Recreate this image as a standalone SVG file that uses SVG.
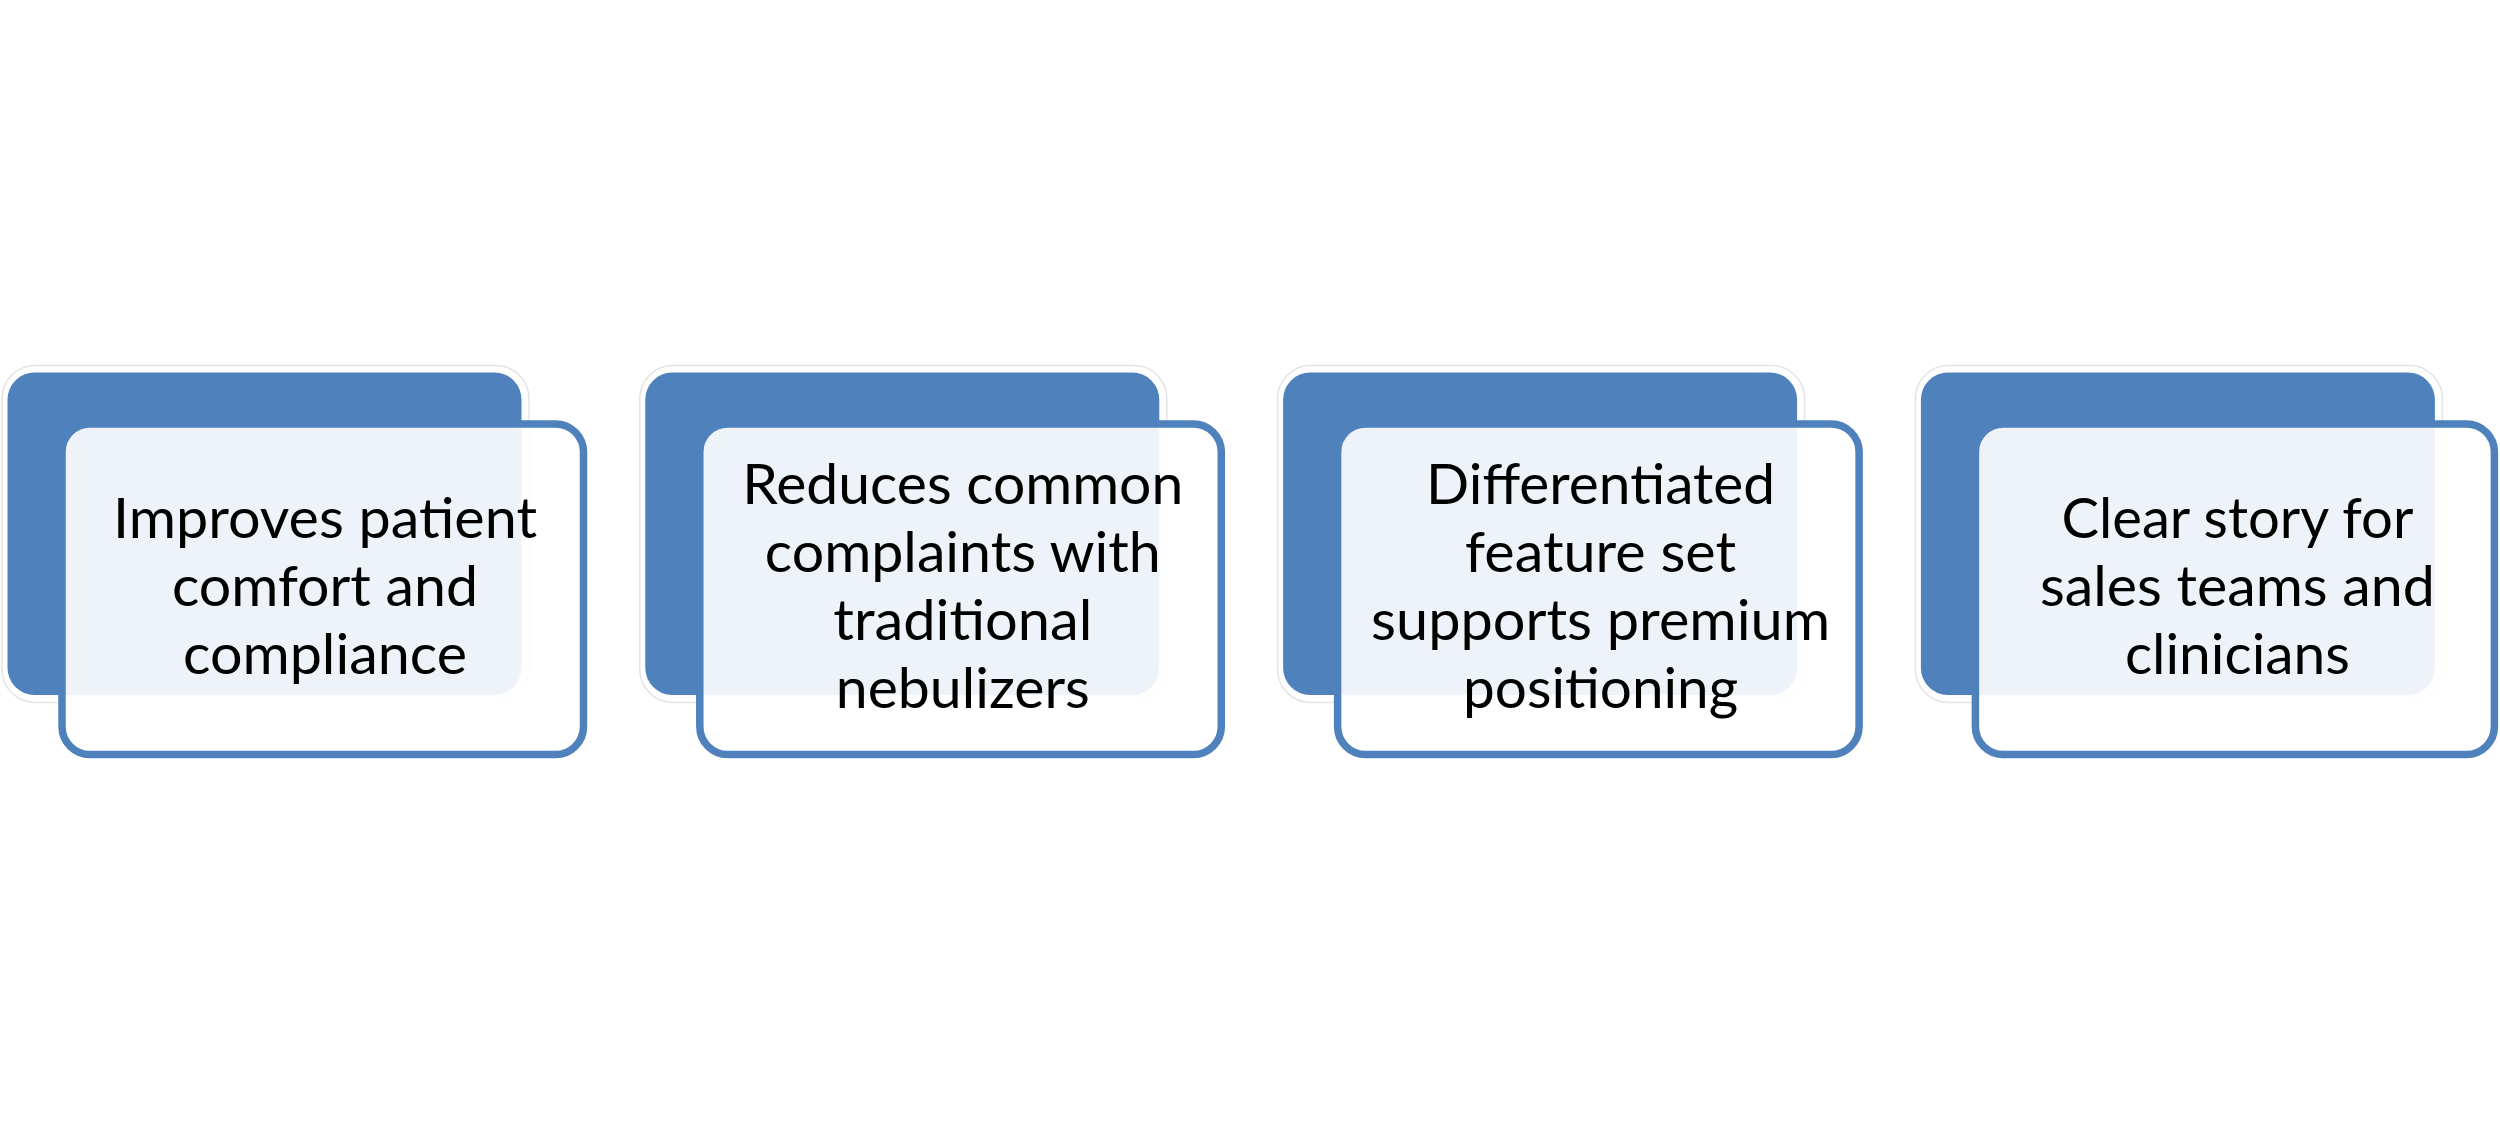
<svg xmlns="http://www.w3.org/2000/svg" width="2500" height="1123" viewBox="0 0 2500 1123">
<style>
.halo{fill:none;stroke:#e3e3e3;stroke-width:1.5}
.back{fill:#4f81bd}
.front{fill:#ffffff;fill-opacity:0.9;stroke:#4f81bd;stroke-width:7.5}
.lbl{font-family:Lato,"Open Sans","Liberation Sans",sans-serif;font-size:56px;fill:#000000;text-anchor:middle}
</style>
<rect x="0" y="0" width="2500" height="1123" fill="#ffffff"/>
<g id="connectors"/>
<g id="node1" transform="translate(0,0)">
<rect class="halo" x="2" y="365.5" width="527" height="337" rx="33"/>
<rect class="back" x="7.5" y="372.5" width="514" height="322.5" rx="27"/>
<rect class="front" x="62" y="424" width="521.5" height="330.5" rx="28"/>
<text class="lbl"><tspan x="325" y="538" textLength="424" lengthAdjust="spacingAndGlyphs">Improves patient</tspan><tspan x="325" y="606" textLength="306" lengthAdjust="spacingAndGlyphs">comfort and</tspan><tspan x="325" y="674" textLength="284" lengthAdjust="spacingAndGlyphs">compliance</tspan></text>
</g>
<g id="node2" transform="translate(637.8,0)">
<rect class="halo" x="2" y="365.5" width="527" height="337" rx="33"/>
<rect class="back" x="7.5" y="372.5" width="514" height="322.5" rx="27"/>
<rect class="front" x="62" y="424" width="521.5" height="330.5" rx="28"/>
<text class="lbl"><tspan x="325" y="504" textLength="441" lengthAdjust="spacingAndGlyphs">Reduces common</tspan><tspan x="325" y="572" textLength="396" lengthAdjust="spacingAndGlyphs">complaints with</tspan><tspan x="325" y="640" textLength="259" lengthAdjust="spacingAndGlyphs">traditional</tspan><tspan x="325" y="708" textLength="254" lengthAdjust="spacingAndGlyphs">nebulizers</tspan></text>
</g>
<g id="node3" transform="translate(1275.6,0)">
<rect class="halo" x="2" y="365.5" width="527" height="337" rx="33"/>
<rect class="back" x="7.5" y="372.5" width="514" height="322.5" rx="27"/>
<rect class="front" x="62" y="424" width="521.5" height="330.5" rx="28"/>
<text class="lbl"><tspan x="325" y="504" textLength="349" lengthAdjust="spacingAndGlyphs">Differentiated</tspan><tspan x="325" y="572" textLength="271" lengthAdjust="spacingAndGlyphs">feature set</tspan><tspan x="325" y="640" textLength="459" lengthAdjust="spacingAndGlyphs">supports premium</tspan><tspan x="325" y="708" textLength="275" lengthAdjust="spacingAndGlyphs">positioning</tspan></text>
</g>
<g id="node4" transform="translate(1913.4,0)">
<rect class="halo" x="2" y="365.5" width="527" height="337" rx="33"/>
<rect class="back" x="7.5" y="372.5" width="514" height="322.5" rx="27"/>
<rect class="front" x="62" y="424" width="519" height="330.5" rx="28"/>
<text class="lbl"><tspan x="324" y="538" textLength="352" lengthAdjust="spacingAndGlyphs">Clear story for</tspan><tspan x="324" y="606" textLength="395" lengthAdjust="spacingAndGlyphs">sales teams and</tspan><tspan x="324" y="674" textLength="225" lengthAdjust="spacingAndGlyphs">clinicians</tspan></text>
</g>
</svg>
